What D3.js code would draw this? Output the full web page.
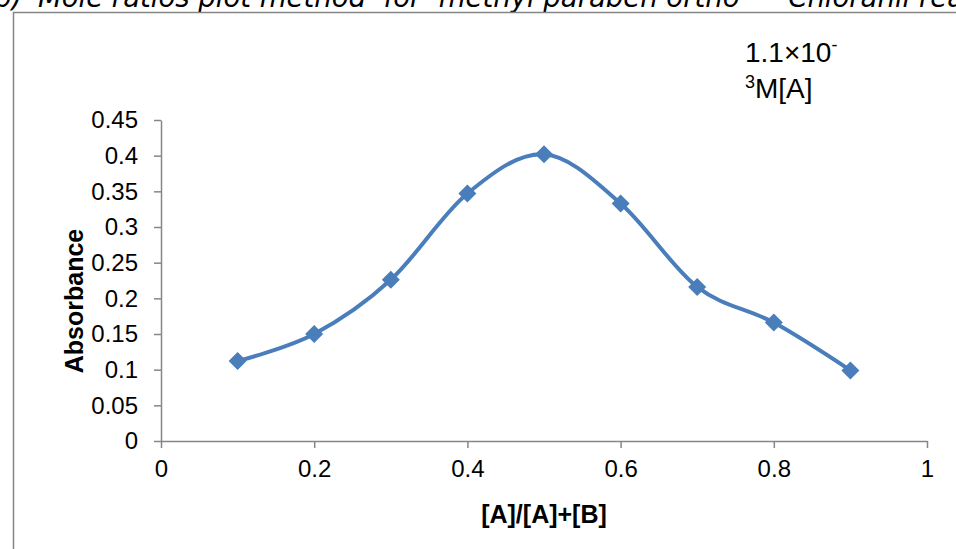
<!DOCTYPE html>
<html>
<head>
<meta charset="utf-8">
<script src="https://cdn.jsdelivr.net/npm/d3@7"></script>
<style>
  body { margin: 0; background: #fff; }
  svg { display: block; }
</style>
</head>
<body>
<script>
// mole ratio data
const ratios = [0.1, 0.2, 0.3, 0.4, 0.5, 0.6, 0.7, 0.8, 0.9];
const absorbance = [0.112, 0.15, 0.226, 0.347, 0.402, 0.333, 0.216, 0.166, 0.099];
const xTicks = [0, 0.2, 0.4, 0.6, 0.8, 1];
const yTicks = [0, 0.05, 0.1, 0.15, 0.2, 0.25, 0.3, 0.35, 0.4, 0.45];

const width = 956, height = 549;
const axisColor = "#868686";
const blue = "#4a7ebb";

const svg = d3.select("body")
    .append("svg")
    .attr("width", width)
    .attr("height", height);

// title cut off at the top of the picture
const title = svg.append("text")
    .attr("y", 7)
    .attr("font-family", "DejaVu Sans, Verdana, sans-serif")
    .attr("font-style", "italic")
    .attr("font-size", 27.5)
    .style("white-space", "pre");
title.append("tspan").attr("x", -6).text("b)");
title.append("tspan").attr("x", 38)
    .text("Mole ratios plot method  for  methyl paraben ortho  \u2013  Chloranil reaction");

// chart frame
svg.append("rect")
    .attr("x", 13.5)
    .attr("y", 12.5)
    .attr("width", 1000)
    .attr("height", 600)
    .attr("fill", "none")
    .attr("stroke", axisColor)
    .attr("stroke-width", 1.5);

const x = d3.scaleLinear().domain([0, 1]).range([161, 927]);
const y = d3.scaleLinear().domain([0, 0.45]).range([441, 120]);

const fmt = d => String(+d.toFixed(2));

const xAxis = svg.append("g")
    .attr("transform", `translate(0, ${y(0)})`)
    .call(d3.axisBottom(x).tickValues(xTicks).tickFormat(fmt).tickSize(7).tickSizeOuter(0).tickPadding(12));

const yAxis = svg.append("g")
    .attr("transform", `translate(${x(0)}, 0)`)
    .call(d3.axisLeft(y).tickValues(yTicks).tickFormat(fmt).tickSize(7).tickSizeOuter(0).tickPadding(16));

[xAxis, yAxis].forEach(a => {
    a.select(".domain").attr("stroke", axisColor).attr("stroke-width", 1.5);
    a.selectAll(".tick line").attr("stroke", axisColor).attr("stroke-width", 1.5);
    a.selectAll(".tick text")
        .attr("fill", "#000")
        .attr("font-family", "Liberation Sans, Arial, sans-serif")
        .attr("font-size", 24);
});

// axis titles
svg.append("text")
    .attr("x", (x(0) + x(1)) / 2)
    .attr("y", 523)
    .attr("text-anchor", "middle")
    .attr("font-family", "Liberation Sans, Arial, sans-serif")
    .attr("font-weight", "bold")
    .attr("font-size", 25)
    .text("[A]/[A]+[B]");

svg.append("text")
    .attr("transform", "translate(83, 301) rotate(-90)")
    .attr("text-anchor", "middle")
    .attr("font-family", "Liberation Sans, Arial, sans-serif")
    .attr("font-weight", "bold")
    .attr("font-size", 25)
    .text("Absorbance");

// smoothed line
const pts = ratios.map((r, i) => [r, absorbance[i]]);
const line = d3.line()
    .x(d => x(d[0]))
    .y(d => y(d[1]))
    .curve(d3.curveCatmullRom.alpha(0));

svg.append("path")
    .datum(pts)
    .attr("d", line)
    .attr("fill", "none")
    .attr("stroke", blue)
    .attr("stroke-width", 4);

svg.selectAll(".marker")
    .data(pts)
    .enter()
    .append("path")
    .attr("class", "marker")
    .attr("d", d3.symbol(d3.symbolSquare, 162))
    .attr("transform", d => `translate(${x(d[0])}, ${y(d[1])}) rotate(45)`)
    .attr("fill", blue);

// legend text
const leg = svg.append("text")
    .attr("font-family", "Liberation Sans, Arial, sans-serif")
    .attr("font-size", 28)
    .attr("fill", "#000");
leg.append("tspan").attr("x", 745).attr("y", 62).text("1.1\u00d710");
leg.append("tspan").attr("font-size", 18).attr("dy", -11).text("-");
leg.append("tspan").attr("x", 745).attr("y", 88).attr("font-size", 18).text("3");
leg.append("tspan").attr("y", 98).text("M[A]");
</script>
</body>
</html>
